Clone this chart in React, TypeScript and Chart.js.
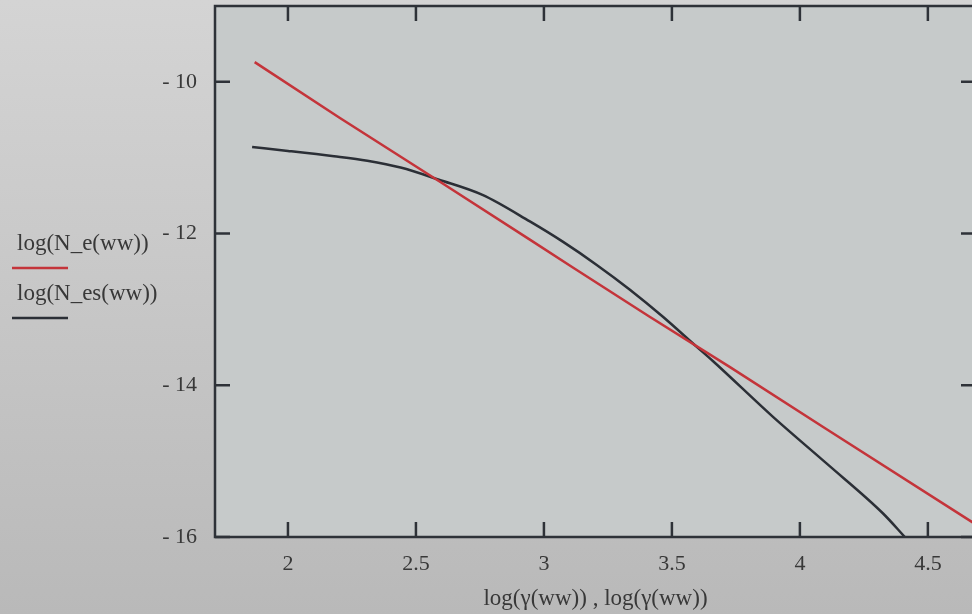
import React, { useEffect, useRef } from "react";
import { Chart, registerables } from "chart.js";

Chart.register(...registerables);

// ---- data ----
const X_TICKS = [2, 2.5, 3, 3.5, 4, 4.5];
const Y_TICKS = [-16, -14, -12, -10];

const NE_X = [1.87, 2.2, 2.6, 2.945, 3.11, 3.41, 3.727, 4.1, 4.69];
const NE_Y = [-9.74, -10.47, -11.33, -12.08, -12.44, -13.09, -13.76, -14.57, -15.84];

const NES_X = [1.86, 2.0, 2.18, 2.31, 2.44, 2.59, 2.76, 2.945, 3.075, 3.205, 3.336, 3.466, 3.596, 3.66, 3.896, 4.104, 4.325, 4.41];
const NES_Y = [-10.86, -10.91, -10.98, -11.04, -11.13, -11.29, -11.49, -11.84, -12.11, -12.41, -12.74, -13.1, -13.49, -13.68, -14.42, -15.03, -15.69, -16.0];

const SERIES_LABELS = ["log(N_e(ww))", "log(N_es(ww))"];
const SERIES_COLORS = ["#c4343a", "#2b2f36"];
const X_TITLE = "log(γ(ww)) , log(γ(ww))";

const X_MIN = 1.715;
const X_MAX = 4.688;
const Y_MIN = -16;
const Y_MAX = -9;

const FONT_FAMILY = "'Liberation Serif', 'DejaVu Serif', serif";
const TEXT_COLOR = "#383838";
const AXIS_COLOR = "#2e3238";

const frame = {
  id: "frame",
  beforeDraw(chart: any) {
    const { ctx, chartArea: a } = chart;
    ctx.save();
    ctx.fillStyle = "#c6caca";
    ctx.fillRect(a.left, a.top, a.right - a.left, a.bottom - a.top);
    ctx.restore();
  },
  afterDraw(chart: any) {
    const { ctx, chartArea: a, scales } = chart;
    const xs = scales.x;
    const ys = scales.y;
    ctx.save();
    ctx.strokeStyle = AXIS_COLOR;
    ctx.lineWidth = 2.5;
    ctx.strokeRect(a.left, a.top, a.right - a.left, a.bottom - a.top);
    const L = 15;
    ctx.beginPath();
    xs.ticks.forEach((t: any) => {
      const px = xs.getPixelForValue(t.value);
      ctx.moveTo(px, a.bottom);
      ctx.lineTo(px, a.bottom - L);
      ctx.moveTo(px, a.top);
      ctx.lineTo(px, a.top + L);
    });
    ys.ticks.forEach((t: any) => {
      const py = ys.getPixelForValue(t.value);
      ctx.moveTo(a.left, py);
      ctx.lineTo(a.left + L, py);
      ctx.moveTo(a.right, py);
      ctx.lineTo(a.right - L, py);
    });
    ctx.stroke();

    // legend at the left
    ctx.font = `23px ${FONT_FAMILY}`;
    ctx.fillStyle = TEXT_COLOR;
    ctx.textBaseline = "middle";
    ctx.textAlign = "left";
    const rows = [
      { ty: 244, ly: 268 },
      { ty: 294, ly: 318 },
    ];
    SERIES_LABELS.forEach((lab, i) => {
      ctx.fillText(lab, 17, rows[i].ty);
      ctx.strokeStyle = SERIES_COLORS[i];
      ctx.lineWidth = 2.5;
      ctx.beginPath();
      ctx.moveTo(12, rows[i].ly);
      ctx.lineTo(68, rows[i].ly);
      ctx.stroke();
    });
    ctx.restore();
  },
};

export default function App() {
  const ref = useRef<HTMLCanvasElement | null>(null);

  useEffect(() => {
    if (!ref.current) return;
    const chart = new Chart(ref.current, {
      type: "line",
      data: {
        datasets: [
          {
            label: SERIES_LABELS[0],
            data: NE_X.map((x, i) => ({ x, y: NE_Y[i] })),
            borderColor: SERIES_COLORS[0],
            borderWidth: 2.5,
            pointRadius: 0,
            tension: 0,
          },
          {
            label: SERIES_LABELS[1],
            data: NES_X.map((x, i) => ({ x, y: NES_Y[i] })),
            borderColor: SERIES_COLORS[1],
            borderWidth: 2.5,
            pointRadius: 0,
            cubicInterpolationMode: "monotone",
          },
        ],
      },
      options: {
        animation: false,
        responsive: false,
        maintainAspectRatio: false,
        layout: { padding: { left: 0, top: 6, right: 2, bottom: 0 } },
        plugins: {
          legend: { display: false },
          tooltip: { enabled: false },
        },
        scales: {
          x: {
            type: "linear",
            min: X_MIN,
            max: X_MAX,
            afterBuildTicks: (s: any) => {
              s.ticks = X_TICKS.map((v) => ({ value: v }));
            },
            afterFit: (s: any) => {
              s.height = 77;
              s.paddingLeft = 0;
              s.paddingRight = 0;
            },
            grid: { display: false },
            border: { display: false },
            ticks: {
              color: TEXT_COLOR,
              font: { family: FONT_FAMILY, size: 22 },
              padding: 6,
              maxRotation: 0,
              autoSkip: false,
              callback: (v: any) => String(v),
            },
            title: {
              display: true,
              text: X_TITLE,
              color: TEXT_COLOR,
              font: { family: FONT_FAMILY, size: 23 },
              padding: { top: 0, bottom: 1 },
            },
          },
          y: {
            type: "linear",
            min: Y_MIN,
            max: Y_MAX,
            afterBuildTicks: (s: any) => {
              s.ticks = Y_TICKS.map((v) => ({ value: v }));
            },
            afterFit: (s: any) => {
              s.width = 215;
              s.paddingTop = 0;
              s.paddingBottom = 0;
            },
            grid: { display: false },
            border: { display: false },
            ticks: {
              color: TEXT_COLOR,
              font: { family: FONT_FAMILY, size: 22 },
              padding: 10,
              autoSkip: false,
              callback: (v: any) => (v < 0 ? "- " + Math.abs(v) : String(v)),
            },
          },
        },
      },
      plugins: [frame],
    });
    return () => chart.destroy();
  }, []);

  return (
    <div
      style={{
        position: "absolute",
        left: 0,
        top: 0,
        width: 972,
        height: 614,
        overflow: "hidden",
        background: "linear-gradient(180deg, #d4d4d4 0%, #c4c4c4 60%, #b9b9b9 100%)",
      }}
    >
      <canvas ref={ref} width={978} height={614} style={{ display: "block" }} />
    </div>
  );
}
